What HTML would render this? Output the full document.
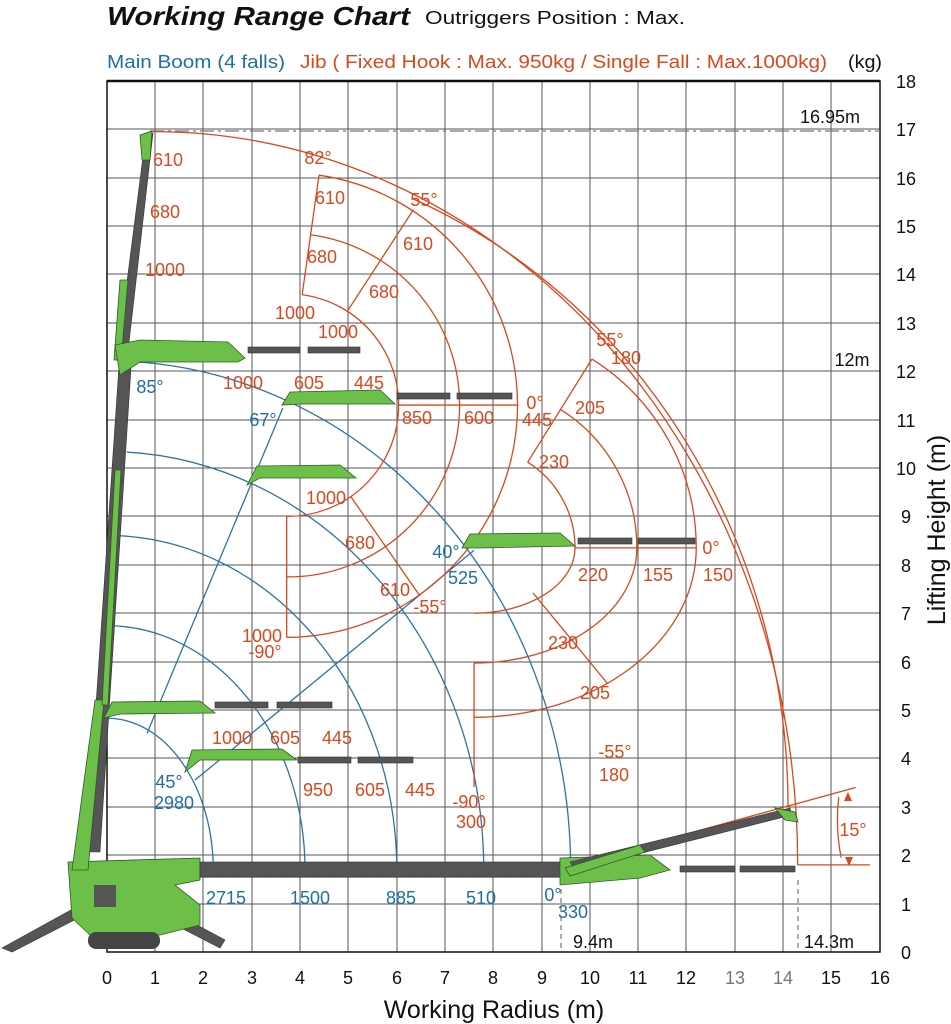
<!DOCTYPE html>
<html><head><meta charset="utf-8"><style>
body{margin:0;background:#fff;}
svg{display:block;font-family:"Liberation Sans",sans-serif;}
.o{fill:#d9481e;font-size:18px;text-anchor:middle;}
.b{fill:#1f6fa5;font-size:18px;text-anchor:middle;}
.k{fill:#111;font-size:18px;text-anchor:middle;}
.g{stroke:#555;stroke-width:1;}
.or{fill:none;stroke:#d9481e;stroke-width:1.3;vector-effect:non-scaling-stroke;}
.bl{fill:none;stroke:#2a74a8;stroke-width:1.3;vector-effect:non-scaling-stroke;}
.gr{fill:#6cc04a;stroke:#2f5a22;stroke-width:0.8;}
.dk{fill:#555;stroke:#333;stroke-width:0.6;}
</style></head><body>
<svg width="951" height="1024" viewBox="0 0 951 1024">
<rect width="951" height="1024" fill="#fff"/>
<text x="107" y="25" font-size="26" font-weight="bold" font-style="italic" fill="#111" textLength="303" lengthAdjust="spacingAndGlyphs">Working Range Chart</text>
<text x="425" y="24" font-size="18" fill="#111" textLength="260" lengthAdjust="spacingAndGlyphs">Outriggers Position : Max.</text>
<text x="107" y="68" font-size="18" fill="#1f6fa5" textLength="178" lengthAdjust="spacingAndGlyphs">Main Boom (4 falls)</text>
<text x="300" y="68" font-size="18" fill="#d9481e" textLength="527" lengthAdjust="spacingAndGlyphs">Jib ( Fixed Hook : Max. 950kg / Single Fall : Max.1000kg)</text>
<text x="848" y="68" font-size="18" fill="#111" textLength="34" lengthAdjust="spacingAndGlyphs">(kg)</text>
<g class="g">
<line x1="155" y1="81" x2="155" y2="952"/><line x1="203" y1="81" x2="203" y2="952"/><line x1="252" y1="81" x2="252" y2="952"/><line x1="300" y1="81" x2="300" y2="952"/><line x1="348" y1="81" x2="348" y2="952"/><line x1="397" y1="81" x2="397" y2="952"/><line x1="445" y1="81" x2="445" y2="952"/><line x1="493" y1="81" x2="493" y2="952"/><line x1="542" y1="81" x2="542" y2="952"/><line x1="590" y1="81" x2="590" y2="952"/><line x1="638" y1="81" x2="638" y2="952"/><line x1="686" y1="81" x2="686" y2="952"/><line x1="735" y1="81" x2="735" y2="952"/><line x1="783" y1="81" x2="783" y2="952"/><line x1="831" y1="81" x2="831" y2="952"/>
<line x1="107" y1="129" x2="880" y2="129"/><line x1="107" y1="178" x2="880" y2="178"/><line x1="107" y1="226" x2="880" y2="226"/><line x1="107" y1="274" x2="880" y2="274"/><line x1="107" y1="323" x2="880" y2="323"/><line x1="107" y1="371" x2="880" y2="371"/><line x1="107" y1="420" x2="880" y2="420"/><line x1="107" y1="468" x2="880" y2="468"/><line x1="107" y1="516" x2="880" y2="516"/><line x1="107" y1="565" x2="880" y2="565"/><line x1="107" y1="613" x2="880" y2="613"/><line x1="107" y1="662" x2="880" y2="662"/><line x1="107" y1="710" x2="880" y2="710"/><line x1="107" y1="758" x2="880" y2="758"/><line x1="107" y1="807" x2="880" y2="807"/><line x1="107" y1="855" x2="880" y2="855"/><line x1="107" y1="904" x2="880" y2="904"/>
</g>
<rect x="107" y="81" width="773" height="871" fill="none" stroke="#111" stroke-width="1.5"/>
<line x1="107" y1="81" x2="880" y2="81" stroke="#111" stroke-width="2.5"/>
<line x1="150" y1="131" x2="880" y2="131" stroke="#777" stroke-width="1.2" stroke-dasharray="14,4,3,4"/>
<line x1="561" y1="880" x2="561" y2="952" stroke="#777" stroke-width="1.2" stroke-dasharray="5,4"/>
<line x1="798" y1="880" x2="798" y2="952" stroke="#777" stroke-width="1.2" stroke-dasharray="5,4"/>

<g transform="translate(107,952) scale(48.3,-48.4)">
 <path class="bl" d="M0.5,12.2 A9.6 10.52 0 0 0 9.6,1.7 L9.6,1.55"/>
 <path class="bl" d="M0.41,10.33 A7.8 8.64 0 0 0 7.8,1.7 L7.8,1.55"/>
 <path class="bl" d="M0.27,8.6 A6.0 6.92 0 0 0 6.0,1.7 L6.0,1.55"/>
 <path class="bl" d="M0.12,6.74 A4.1 5.05 0 0 0 4.1,1.7 L4.1,1.55"/>
 <path class="bl" d="M0,4.83 A2.2 3.13 0 0 0 2.2,1.7 L2.2,1.55"/>
 <line class="bl" x1="0.0" y1="1.55" x2="9.6" y2="1.55"/>
 <line class="bl" x1="0.83" y1="4.52" x2="3.64" y2="11.24"/>
 <line class="bl" x1="1.82" y1="3.55" x2="7.6" y2="8.3"/>
 <line class="bl" x1="0" y1="5.06" x2="0.48" y2="12.1"/>
 <path class="or" d="M0.95,16.95 A13.35 15.15 0 0 0 14.3,1.8"/>
 <path class="or" d="M6.34,15.56 A12.6 13.6 0 0 0 14.1,3.0"/>
 <path class="or" d="M4.04,13.58 A2.3 2.3 0 0 0 3.72,9.0"/>
 <path class="or" d="M4.21,14.82 A3.55 3.55 0 0 0 3.72,7.75"/>
 <path class="or" d="M4.39,16.05 A4.8 4.8 0 0 0 3.72,6.5"/>
 <path class="or" d="M4.04,13.58 L4.39,16.05 M4.97,13.23 L6.34,15.33 M5.04,9.42 L6.47,7.37 M3.72,9.0 L3.72,6.5 M6.02,11.3 L8.52,11.3"/>
 <path class="or" d="M8.71,10.12 A2.09 2.09 0 0 0 9.69,8.35 A2.09 1.35 0 0 0 7.6,7.0"/>
 <path class="or" d="M9.39,11.21 A3.37 3.37 0 0 0 10.97,8.35 A3.37 2.38 0 0 0 7.6,5.97"/>
 <path class="or" d="M10.04,12.25 A4.6 4.6 0 0 0 12.2,8.35 A4.6 3.5 0 0 0 7.6,4.85"/>
 <path class="or" d="M8.71,10.12 L10.04,12.25 M8.82,7.42 L10.36,5.55 M7.6,5.97 L7.6,3.41 M9.69,8.35 L12.2,8.35"/>
 <path class="or" d="M12.0,2.44 L15.5,3.4 M14.3,1.8 L15.8,1.8 M15.15,3.2 A4 4 0 0 1 15.2,1.95"/>
</g>
<path d="M848,792 l-4,9 h8 z M849,866 l-4,-9 h8 z" fill="#d9481e"/>

<g>
 <path class="dk" d="M2,948 L80,905 L90,912 L12,952 Z"/>
 <path class="dk" d="M160,905 L225,940 L220,948 L150,912 Z"/>
 <path class="gr" d="M68,862 L200,858 L200,880 L175,885 L200,905 L200,925 L160,935 L90,935 L72,918 L70,890 Z"/>
 <rect x="88" y="932" width="72" height="17" rx="8" fill="#444"/>
 <rect x="94" y="885" width="22" height="22" fill="#555"/>
 <rect class="dk" x="200" y="862" width="365" height="15"/>
 <path class="gr" d="M560,858 L650,855 L670,870 L640,878 L560,885 Z"/>
 <path class="dk" d="M570,862 L790,808 L792,815 L575,870 Z"/>
 <path class="gr" d="M565,868 L640,845 L645,852 L570,876 Z"/>
 <path class="gr" d="M775,808 L795,812 L798,822 L785,820 Z"/>
 <rect class="dk" x="680" y="866" width="55" height="6"/><rect class="dk" x="740" y="866" width="55" height="6"/>
 <path class="dk" d="M86,852 L100,852 L131,368 L119,366 Z"/>
 <path class="gr" d="M72,870 L95,700 L104,700 L88,870 Z"/>
 <path class="gr" d="M102,705 L115,470 L121,470 L108,705 Z"/>
 <path class="dk" d="M117,360 L127,360 L153,133 L146,133 Z"/>
 <path class="gr" d="M140,135 L152,131 L150,160 L142,160 Z"/>
 <path class="gr" d="M120,280 L128,280 L121,360 L114,360 Z"/>
 <path class="gr" d="M115,345 L140,340 L228,342 L245,358 L238,362 L140,362 L120,375 Z"/>
 <rect class="dk" x="248" y="347" width="52" height="6"/><rect class="dk" x="308" y="347" width="52" height="6"/>
 <path class="gr" d="M282,405 L290,392 L380,390 L395,404 L300,404 Z"/>
 <rect class="dk" x="397" y="393" width="53" height="6"/><rect class="dk" x="457" y="393" width="55" height="6"/>
 <path class="gr" d="M247,485 L257,466 L340,465 L356,478 L260,478 Z"/>
 <path class="gr" d="M462,548 L470,534 L560,533 L575,546 L480,548 Z"/>
 <rect class="dk" x="578" y="538" width="54" height="6"/><rect class="dk" x="638" y="538" width="57" height="6"/>
 <path class="gr" d="M104,718 L112,702 L200,701 L215,713 L120,714 Z"/>
 <rect class="dk" x="215" y="702" width="53" height="6"/><rect class="dk" x="277" y="702" width="55" height="6"/>
 <path class="gr" d="M185,772 L192,750 L282,749 L297,760 L200,760 Z"/>
 <rect class="dk" x="298" y="757" width="53" height="6"/><rect class="dk" x="358" y="757" width="55" height="6"/>
</g>

<g class="o">
<text x="168" y="166">610</text><text x="165" y="218">680</text><text x="165" y="276">1000</text>
<text x="318" y="164">82°</text><text x="330" y="204">610</text><text x="424" y="206">55°</text>
<text x="322" y="263">680</text><text x="418" y="250">610</text><text x="384" y="298">680</text>
<text x="295" y="319">1000</text><text x="338" y="338">1000</text>
<text x="610" y="346">55°</text><text x="626" y="364">180</text>
<text x="243" y="389">1000</text><text x="309" y="389">605</text><text x="369" y="389">445</text>
<text x="535" y="409">0°</text><text x="537" y="426">445</text><text x="590" y="414">205</text>
<text x="417" y="424">850</text><text x="479" y="424">600</text><text x="554" y="468">230</text>
<text x="326" y="504">1000</text><text x="360" y="549">680</text><text x="711" y="554">0°</text>
<text x="395" y="596">610</text><text x="430" y="613">-55°</text>
<text x="593" y="581">220</text><text x="658" y="581">155</text><text x="718" y="581">150</text>
<text x="262" y="642">1000</text><text x="265" y="658">-90°</text>
<text x="563" y="649">230</text><text x="595" y="699">205</text>
<text x="232" y="744">1000</text><text x="285" y="744">605</text><text x="337" y="744">445</text>
<text x="615" y="758">-55°</text><text x="614" y="781">180</text>
<text x="318" y="796">950</text><text x="370" y="796">605</text><text x="420" y="796">445</text>
<text x="469" y="808">-90°</text><text x="471" y="828">300</text><text x="853" y="836">15°</text>
</g>
<g class="b">
<text x="150" y="393">85°</text><text x="263" y="426">67°</text><text x="446" y="558">40°</text><text x="463" y="584">525</text>
<text x="169" y="788">45°</text><text x="174" y="809">2980</text>
<text x="226" y="904">2715</text><text x="310" y="904">1500</text><text x="401" y="904">885</text><text x="481" y="904">510</text>
<text x="553" y="901">0°</text><text x="573" y="918">330</text>
</g>
<g class="k">
<text x="830" y="123">16.95m</text><text x="852" y="366">12m</text><text x="593" y="948">9.4m</text><text x="829" y="948">14.3m</text>
</g>
<g class="k" font-size="18">
<text x="906" y="88">18</text><text x="906" y="136">17</text><text x="906" y="185">16</text><text x="906" y="233">15</text><text x="906" y="281">14</text><text x="906" y="330">13</text><text x="906" y="378">12</text><text x="906" y="427">11</text><text x="906" y="475">10</text><text x="906" y="523">9</text><text x="906" y="572">8</text><text x="906" y="620">7</text><text x="906" y="669">6</text><text x="906" y="717">5</text><text x="906" y="765">4</text><text x="906" y="814">3</text><text x="906" y="862">2</text><text x="906" y="911">1</text><text x="906" y="959">0</text>
<text x="107" y="984">0</text><text x="155" y="984">1</text><text x="203" y="984">2</text><text x="252" y="984">3</text><text x="300" y="984">4</text><text x="348" y="984">5</text><text x="397" y="984">6</text><text x="445" y="984">7</text><text x="493" y="984">8</text><text x="542" y="984">9</text><text x="590" y="984">10</text><text x="638" y="984">11</text><text x="686" y="984">12</text><text x="735" y="984" fill="#777">13</text><text x="783" y="984" fill="#777">14</text><text x="831" y="984">15</text><text x="880" y="984">16</text>
</g>
<text x="494" y="1018" font-size="25" fill="#111" text-anchor="middle">Working Radius (m)</text>
<text transform="translate(945,530) rotate(-90)" font-size="25" fill="#111" text-anchor="middle">Lifting Height (m)</text>
</svg>
</body></html>
